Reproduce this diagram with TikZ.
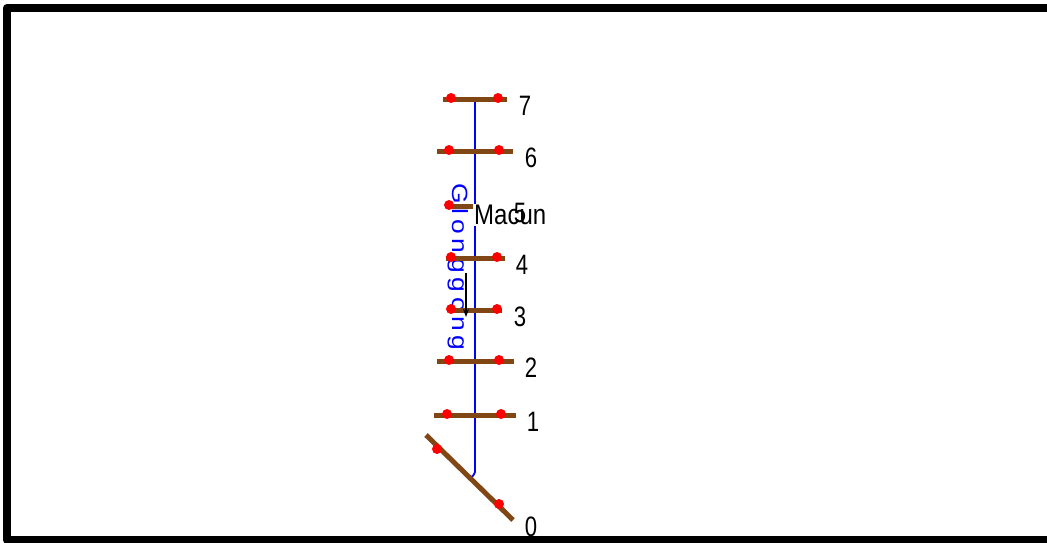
\documentclass[tikz,border=0pt]{standalone}
\usepackage{fontspec}
\usepackage{graphicx}
\setmainfont{Liberation Sans}
\usetikzlibrary{arrows.meta}
\definecolor{rungbrown}{RGB}{128,70,20}
\tikzset{
  rung/.style={draw=rungbrown,line width=5pt},
  joint/.style={circle,fill=red,inner sep=0pt,minimum size=10pt},
  lvl/.style={font=\fontsize{27}{27}\selectfont,inner sep=0pt},
}
\newcommand{\lvltext}[1]{\scalebox{0.82}[1.04]{#1}}
\begin{document}
\begin{tikzpicture}[x=1pt,y=-1pt,line cap=butt,line join=round]
\useasboundingbox (0,0) rectangle (1047,542);
\coordinate (L7) at (443,99);  \coordinate (R7) at (507,99);
\coordinate (L6) at (437,151); \coordinate (R6) at (513,151);
\coordinate (L5) at (446,206);
\coordinate (L4) at (446,258); \coordinate (R4) at (505,258);
\coordinate (L3) at (448,310); \coordinate (R3) at (502,310);
\coordinate (L2) at (437,361); \coordinate (R2) at (514,361);
\coordinate (L1) at (434,415); \coordinate (R1) at (516,415);
\coordinate (L0) at (426,435); \coordinate (R0) at (513,520);
\coordinate (top) at (475,100);
\coordinate (foot) at (470,478);
\coordinate (ar) at (466,273);
\coordinate (ar1) at (466,317);

% Outer frame.
\draw[line width=8pt] (1060,8) -- (7,8) -- (7,540) -- (1060,540);

% Main line.
\draw[blue,line width=1.8pt] (top) -- (475,472) to[out=-90,in=40] (foot);
\node[blue,rotate=-90,inner sep=0pt,font=\fontsize{22}{22}\selectfont\addfontfeature{LetterSpace=18}]
  (glo) at (458,267) {\scalebox{1.2}[1]{Glonggong}};
\node[right,fill=white,inner sep=1pt,font=\fontsize{24}{24}\selectfont] (mac) at (473,215) {\scalebox{1}[1.18]{Macun}};

% Cross members.
\draw[rung] (L7) -- (R7);
\draw[rung] (L6) -- (R6);
\draw[rung] (L5) -- (mac.west |- L5);
\draw[rung] (L4) -- (R4);
\draw[rung] (L3) -- (R3);
\draw[rung] (L2) -- (R2);
\draw[rung] (L1) -- (R1);
\draw[rung] (L0) -- (R0);

% Flow direction.
\draw[line width=1.3pt,-{Stealth[length=8pt,width=6pt]}] (ar) -- (ar1);

\node[joint] (p7a) at (451,98) {}; \node[joint] (p7b) at (498,98) {};
\node[joint] (p6a) at (449,150) {}; \node[joint] (p6b) at (499,150) {};
\node[joint] (p5a) at (449,205) {};
\node[joint] (p4a) at (451,257) {}; \node[joint] (p4b) at (497,257) {};
\node[joint] (p3a) at (451,309) {}; \node[joint] (p3b) at (497,309) {};
\node[joint] (p2a) at (449,360) {}; \node[joint] (p2b) at (499,360) {};
\node[joint] (p1a) at (447,414) {}; \node[joint] (p1b) at (501,414) {};
\node[joint] (p0a) at (437,449) {}; \node[joint] (p0b) at (499,504) {};

\node[lvl] (n7) at (525,106) {\lvltext{7}};
\node[lvl] (n6) at (531,158) {\lvltext{6}};
\node[lvl] (n5) at (520,213) {\lvltext{5}};
\node[lvl] (n4) at (522,265) {\lvltext{4}};
\node[lvl] (n3) at (520,317) {\lvltext{3}};
\node[lvl] (n2) at (531,368) {\lvltext{2}};
\node[lvl] (n1) at (533,422) {\lvltext{1}};
\node[lvl] (n0) at (531,527) {\lvltext{0}};
\end{tikzpicture}
\end{document}
